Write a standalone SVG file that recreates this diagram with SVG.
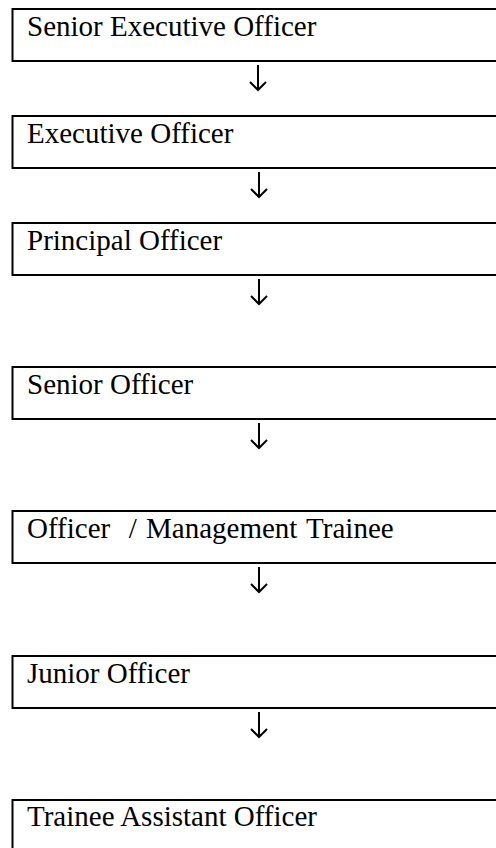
<svg xmlns="http://www.w3.org/2000/svg" width="496" height="848" viewBox="0 0 496 848">
<style>
.box{fill:#fff;stroke:#000;stroke-width:2}
.lbl{font-family:"Liberation Serif","Times New Roman",serif;font-size:29px;fill:#000}
.arr{fill:none;stroke:#000;stroke-width:2}
</style>
<rect width="496" height="848" fill="#fff"/>
<g id="n1"><rect class="box" x="12.5" y="9" width="500" height="52"/><text class="lbl" x="27" y="36">Senior Executive Officer</text></g>
<g id="n2"><rect class="box" x="12.5" y="116" width="500" height="52"/><text class="lbl" x="27" y="143">Executive Officer</text></g>
<g id="n3"><rect class="box" x="12.5" y="223" width="500" height="52"/><text class="lbl" x="27" y="250">Principal Officer</text></g>
<g id="n4"><rect class="box" x="12.5" y="367" width="500" height="52"/><text class="lbl" x="27" y="394">Senior Officer</text></g>
<g id="n5"><rect class="box" x="12.5" y="511" width="500" height="52"/><text class="lbl" x="27" y="538" xml:space="preserve" word-spacing="2">Officer  / Management Trainee</text></g>
<g id="n6"><rect class="box" x="12.5" y="656" width="500" height="52"/><text class="lbl" x="27" y="683">Junior Officer</text></g>
<g id="n7"><rect class="box" x="12.5" y="800" width="500" height="60"/><text class="lbl" x="27" y="826">Trainee Assistant Officer</text></g>
<g id="connectors">
<path class="arr" d="M258 65V90M250 82L258 90L266 82"/>
<path class="arr" d="M259 172V197M251 189L259 197L267 189"/>
<path class="arr" d="M259 279V304M251 296L259 304L267 296"/>
<path class="arr" d="M259 423V448M251 440L259 448L267 440"/>
<path class="arr" d="M259 567V592M251 584L259 592L267 584"/>
<path class="arr" d="M259 712V737M251 729L259 737L267 729"/>
</g>
</svg>
